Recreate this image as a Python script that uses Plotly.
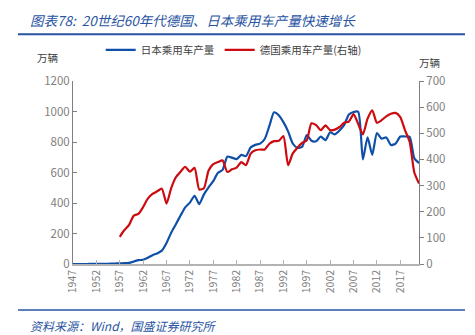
import plotly.graph_objects as go

years = list(range(1947, 2022))

# Japan passenger car production, 10k units (left axis)
japan = [0.01, 0.04, 0.1, 0.16, 0.36, 0.48, 0.86, 1.45, 2.03, 3.2,
         4.7, 5.1, 7.9, 16.5, 25.0, 28.0, 40.8, 58.0, 69.6, 87.8,
         137.5, 205.6, 261.0, 317.9, 371.8, 402.2, 447.1, 393.2, 456.8, 502.8,
         543.1, 597.6, 617.6, 703.8, 697.4, 688.1, 715.2, 707.3, 764.7, 781.0,
         789.1, 819.8, 905.2, 994.8, 975.3, 930.0, 870.0, 790.1, 761.1, 768.0,
         846.0, 808.0, 805.0, 836.0, 811.8, 864.0, 850.0, 875.0, 912.0, 980.0,
         997.0, 998.0, 686.2, 831.0, 716.0, 858.0, 822.0, 830.0, 780.0, 790.0,
         836.0, 836.0, 834.0, 694.0, 662.0]

# West Germany / Germany passenger car production, 10k units (right axis)
germany = [None] * 10 + [
    104, 130, 150, 185, 192, 218, 250, 268, 278, 288,
    231, 290, 332, 353, 372, 353, 368, 285, 290, 358,
    382, 390, 396, 352, 362, 369, 390, 378, 422, 435,
    438, 438, 460, 470, 471, 489, 378, 423, 445, 463,
    473, 538, 531, 512, 530, 512, 514, 524, 540, 545,
    573, 535, 496, 556, 588, 540, 550, 565, 575, 578,
    562, 512, 468, 350, 308]

tick_years = list(range(1947, 2018, 5))

blue = "#0f4fa8"
red = "#cc0a0f"
grey_txt = "#808080"

fig = go.Figure()
fig.add_trace(go.Scatter(
    x=years, y=japan, name="日本乘用车产量", mode="lines",
    line=dict(color=blue, width=2.2, shape="spline", smoothing=0.6),
    yaxis="y"))
fig.add_trace(go.Scatter(
    x=years, y=germany, name="德国乘用车产量(右轴)", mode="lines",
    line=dict(color=red, width=2.2, shape="spline", smoothing=0.6),
    yaxis="y2", connectgaps=False))

fig.update_layout(
    width=475, height=335,
    margin=dict(l=73, r=56, t=81, b=71),
    plot_bgcolor="white", paper_bgcolor="white",
    font=dict(family="Noto Sans CJK SC, Liberation Sans, sans-serif", color=grey_txt, size=11),
    showlegend=True,
    legend=dict(orientation="h", x=0.08, y=1.17, xanchor="left", yanchor="middle",
                font=dict(size=10.5, color="#404040"), itemwidth=30,
                bgcolor="rgba(0,0,0,0)", tracegroupgap=0),
    xaxis=dict(range=[1947, 2021], tickmode="array", tickvals=tick_years,
               ticktext=[str(y) for y in tick_years], tickangle=-90,
               showgrid=False, zeroline=False, showline=True, linecolor="#b3b3b3",
               linewidth=1.5, ticks="inside", ticklen=4, tickcolor="#b3b3b3",
               tickfont=dict(size=10.5, color=grey_txt)),
    yaxis=dict(range=[0, 1200], dtick=200, showgrid=False, zeroline=False,
               showline=True, linecolor="#7f7f7f", linewidth=1, ticks="inside",
               ticklen=4, tickcolor="#7f7f7f", tickfont=dict(size=11.5, color=grey_txt)),
    yaxis2=dict(range=[0, 700], dtick=100, overlaying="y", side="right",
                showgrid=False, zeroline=False, showline=True, linecolor="#7f7f7f",
                linewidth=1, ticks="outside", ticklen=4, tickcolor="#7f7f7f",
                tickfont=dict(size=11.5, color=grey_txt)),
)

title_blue = "#2a55a3"
fig.add_annotation(text="<i>图表78:  20世纪60年代德国、日本乘用车产量快速增长</i>",
                   xref="paper", yref="paper", x=-0.13, y=1.331,
                   xanchor="left", yanchor="middle", showarrow=False,
                   font=dict(size=13.5, color=title_blue))
fig.add_annotation(text="<i>资料来源：Wind，国盛证券研究所</i>",
                   xref="paper", yref="paper", x=-0.13, y=-0.338,
                   xanchor="left", yanchor="middle", showarrow=False,
                   font=dict(size=12, color=title_blue))
fig.add_annotation(text="万辆", xref="paper", yref="paper", x=-0.075, y=1.13,
                   xanchor="center", yanchor="middle", showarrow=False,
                   font=dict(size=10.5, color="#404040"))
fig.add_annotation(text="万辆", xref="paper", yref="paper", x=1.03, y=1.10,
                   xanchor="center", yanchor="middle", showarrow=False,
                   font=dict(size=10.5, color="#404040"))

# header and footer rules
fig.add_shape(type="line", xref="paper", yref="paper", x0=-0.159, x1=1.133,
              y0=1.255, y1=1.255, line=dict(color=title_blue, width=2))
fig.add_shape(type="line", xref="paper", yref="paper", x0=-0.159, x1=1.133,
              y0=-0.252, y1=-0.252, line=dict(color=title_blue, width=1.5))

fig.write_html("out.html")
